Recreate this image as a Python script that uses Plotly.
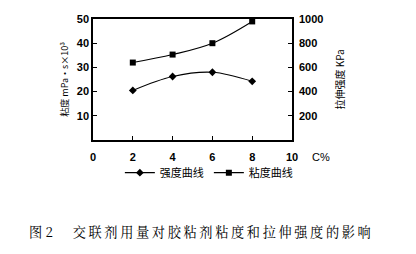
import plotly.graph_objects as go

x_vals = [2, 4, 6, 8]
viscosity = [32, 35.3, 40, 49]          # 粘度 mPa·s×10³ (left axis)
strength = [410, 525, 560, 485]         # 拉伸强度 KPa (right axis)

left_ticks = [10, 20, 30, 40, 50]
right_ticks = [200, 400, 600, 800, 1000]
x_ticks = [0, 2, 4, 6, 8, 10]

cjk = "Noto Sans CJK SC"
tickfont = dict(family="Liberation Sans", size=11, color="black", weight="bold")

fig = go.Figure()
fig.add_trace(go.Scatter(
    x=x_vals, y=strength, yaxis="y2", name="强度曲线",
    mode="lines+markers", line=dict(color="black", width=1.1, shape="spline"),
    marker=dict(symbol="diamond", size=6, color="black")))
fig.add_trace(go.Scatter(
    x=x_vals, y=viscosity, name="粘度曲线",
    mode="lines+markers", line=dict(color="black", width=1.1, shape="spline"),
    marker=dict(symbol="square", size=6, color="black")))

fig.update_layout(
    width=416, height=254,
    margin=dict(l=93, r=124, t=19, b=114),
    paper_bgcolor="white", plot_bgcolor="white",
    showlegend=True,
    legend=dict(orientation="h", x=0.135, y=-0.15, xanchor="left", yanchor="top",
                font=dict(family=cjk, size=11, color="black"),
                itemwidth=30, bgcolor="rgba(0,0,0,0)"),
    xaxis=dict(range=[0, 10], tickvals=x_ticks, ticktext=[str(v) for v in x_ticks],
               ticks="inside", ticklen=4, tickcolor="black", ticklabelstandoff=6,
               showline=True, linecolor="black", linewidth=1.5, mirror=True,
               showgrid=False, zeroline=False, tickfont=tickfont),
    yaxis=dict(range=[0, 50], tickvals=left_ticks, ticks="inside", ticklen=4,
               tickcolor="black", showline=True, linecolor="black", linewidth=1.5,
               showgrid=False, zeroline=False, tickfont=tickfont),
    yaxis2=dict(range=[0, 1000], tickvals=right_ticks, ticks="inside", ticklen=4,
                tickcolor="black", showline=True, linecolor="black", linewidth=1.5,
                overlaying="y", side="right", showgrid=False, zeroline=False,
                ticklabelstandoff=3, tickfont=tickfont),
)

fig.add_annotation(text="粘度 mPa·s×10³", xref="paper", yref="paper",
                   x=-0.145, y=0.5, xanchor="center", yanchor="middle",
                   textangle=-90, showarrow=False,
                   font=dict(family=cjk, size=9, color="black"))
fig.add_annotation(text="拉伸强度 KPa", xref="paper", yref="paper",
                   x=1.241, y=0.5, xanchor="center", yanchor="middle",
                   textangle=-90, showarrow=False,
                   font=dict(family=cjk, size=10, color="black"))
fig.add_annotation(text="C%", xref="paper", yref="paper",
                   x=1.09, y=-0.14, showarrow=False, xanchor="left", yanchor="middle",
                   font=dict(family="Liberation Sans", size=11, color="black"))

caption_chars = "交联剂用量对胶粘剂粘度和拉伸强度的影响"
caption = "图 2\u2003\u2002" + "\u2009".join(caption_chars)
fig.add_annotation(text=caption, xref="paper", yref="paper",
                   x=-0.33, y=-0.76, xanchor="left", yanchor="middle", showarrow=False,
                   font=dict(family="Noto Serif CJK SC, " + cjk, size=13.2, color="black"))

fig.write_html("out.html")
